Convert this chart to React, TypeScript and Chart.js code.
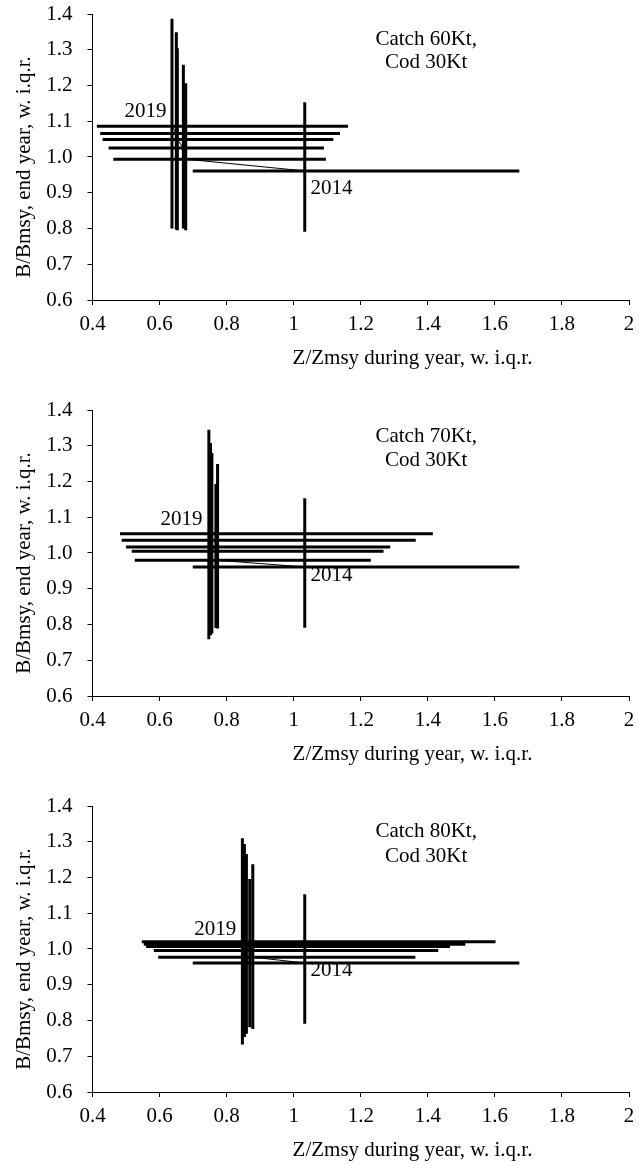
import React, { useEffect, useRef } from "react";
import { Chart, registerables } from "chart.js";

Chart.register(...registerables);

const years = [2014, 2015, 2016, 2017, 2018, 2019];

// Catch 60Kt
const zMid60 = [1.033, 0.678, 0.671, 0.653, 0.650, 0.637];
const zLo60 = [0.699, 0.462, 0.448, 0.430, 0.423, 0.413];
const zHi60 = [1.673, 1.096, 1.090, 1.118, 1.138, 1.162];
const bMid60 = [0.961, 0.994, 1.025, 1.049, 1.066, 1.086];
const bLo60 = [0.791, 0.795, 0.800, 0.795, 0.797, 0.800];
const bHi60 = [1.153, 1.206, 1.258, 1.304, 1.349, 1.387];

// Catch 70Kt
const zMid70 = [1.033, 0.768, 0.773, 0.756, 0.752, 0.747];
const zLo70 = [0.699, 0.526, 0.517, 0.500, 0.487, 0.482];
const zHi70 = [1.673, 1.230, 1.268, 1.288, 1.364, 1.415];
const bMid70 = [0.961, 0.980, 1.005, 1.017, 1.036, 1.054];
const bLo70 = [0.791, 0.790, 0.789, 0.775, 0.770, 0.759];
const bHi70 = [1.153, 1.193, 1.249, 1.280, 1.308, 1.345];

// Catch 80Kt
const zMid80 = [1.033, 0.878, 0.869, 0.859, 0.853, 0.847];
const zLo80 = [0.699, 0.596, 0.583, 0.560, 0.553, 0.547];
const zHi80 = [1.673, 1.363, 1.431, 1.466, 1.512, 1.602];
const bMid80 = [0.961, 0.977, 0.996, 1.007, 1.013, 1.020];
const bLo80 = [0.791, 0.776, 0.781, 0.763, 0.754, 0.733];
const bHi80 = [1.153, 1.237, 1.196, 1.266, 1.294, 1.310];

const xTicks = [0.4, 0.6, 0.8, 1, 1.2, 1.4, 1.6, 1.8, 2];
const yTicks = [0.6, 0.7, 0.8, 0.9, 1.0, 1.1, 1.2, 1.3, 1.4];

const panelTitles = [
  ["Catch 60Kt,", "Cod 30Kt"],
  ["Catch 70Kt,", "Cod 30Kt"],
  ["Catch 80Kt,", "Cod 30Kt"],
];

const xTitle = "Z/Zmsy during year, w. i.q.r.";
const yTitle = "B/Bmsy, end year, w. i.q.r.";

// label anchor positions (data coords)
const labelPos = [
  { catchX: 1.395, catchY: [1.33, 1.263], y19: [0.621, 1.127], y14: [1.05, 0.913] },
  { catchX: 1.395, catchY: [1.325, 1.258], y19: [0.728, 1.093], y14: [1.05, 0.936] },
  { catchX: 1.395, catchY: [1.328, 1.26], y19: [0.829, 1.055], y14: [1.05, 0.94] },
];

const panels = [
  { zMid: zMid60, zLo: zLo60, zHi: zHi60, bMid: bMid60, bLo: bLo60, bHi: bHi60 },
  { zMid: zMid70, zLo: zLo70, zHi: zHi70, bMid: bMid70, bLo: bLo70, bHi: bHi70 },
  { zMid: zMid80, zLo: zLo80, zHi: zHi80, bMid: bMid80, bLo: bLo80, bHi: bHi80 },
];

const FONT = "'Liberation Serif', 'Times New Roman', serif";
const FS = 21;
const W = 639;
const H = 396;
const tops = [0, 395.5, 792];

function Panel({ idx }: { idx: number }) {
  const ref = useRef<HTMLCanvasElement | null>(null);
  useEffect(() => {
    const p = panels[idx];
    const lp = labelPos[idx];
    const datasets: any[] = [];
    years.forEach((yr, i) => {
      datasets.push({
        type: "line",
        data: [
          { x: p.zLo[i], y: p.bMid[i] },
          { x: p.zHi[i], y: p.bMid[i] },
        ],
        borderColor: "#000",
        borderWidth: 3,
        pointRadius: 0,
        fill: false,
      });
      datasets.push({
        type: "line",
        data: [
          { x: p.zMid[i], y: p.bLo[i] },
          { x: p.zMid[i], y: p.bHi[i] },
        ],
        borderColor: "#000",
        borderWidth: 3,
        pointRadius: 0,
        fill: false,
      });
    });
    datasets.push({
      type: "line",
      data: years.map((_, i) => ({ x: p.zMid[i], y: p.bMid[i] })),
      borderColor: "#000",
      borderWidth: 1,
      pointRadius: 0,
      fill: false,
    });

    const textPlugin = {
      id: "texts",
      afterDraw(chart: any) {
        const ctx = chart.ctx;
        const xs = chart.scales.x;
        const ys = chart.scales.y;
        const ca = chart.chartArea;
        ctx.save();
        ctx.fillStyle = "#000";
        ctx.font = `${FS}px ${FONT}`;
        ctx.textBaseline = "middle";
        ctx.textAlign = "center";
        const cx = xs.getPixelForValue(lp.catchX);
        ctx.fillText(panelTitles[idx][0], cx, ys.getPixelForValue(lp.catchY[0]));
        ctx.fillText(panelTitles[idx][1], cx, ys.getPixelForValue(lp.catchY[1]));
        ctx.textAlign = "right";
        ctx.fillText(String(years[5]), xs.getPixelForValue(lp.y19[0]), ys.getPixelForValue(lp.y19[1]));
        ctx.textAlign = "left";
        ctx.fillText(String(years[0]), xs.getPixelForValue(lp.y14[0]), ys.getPixelForValue(lp.y14[1]));
        // axis titles
        ctx.textAlign = "center";
        ctx.fillText(xTitle, ca.left + 320, ca.bottom + 58);
        ctx.translate(24, ca.top + 153);
        ctx.rotate(-Math.PI / 2);
        ctx.fillText(yTitle, 0, 0);
        ctx.restore();
      },
    };

    const chart = new Chart(ref.current as HTMLCanvasElement, {
      type: "scatter",
      data: { datasets },
      options: {
        animation: false,
        responsive: false,
        devicePixelRatio: 1,
        layout: { padding: { top: 14, right: 10, left: 0, bottom: 0 } },
        plugins: { legend: { display: false }, tooltip: { enabled: false }, title: { display: false } },
        scales: {
          x: {
            type: "linear",
            min: 0.4,
            max: 2,
            afterFit: (s: any) => {
              s.height = H - 14 - 286;
              s.paddingLeft = 0;
              s.paddingRight = 0;
            },
            afterBuildTicks: (s: any) => {
              s.ticks = xTicks.map((v) => ({ value: v }));
            },
            ticks: {
              color: "#000",
              font: { family: FONT, size: FS },
              padding: 7,
              maxRotation: 0,
              callback: (v: any) => String(Math.round(Number(v) * 10) / 10),
            },
            grid: { drawOnChartArea: false, drawTicks: true, tickLength: 5, color: "#000" },
            border: { display: true, color: "#000", width: 1 },
          },
          y: {
            type: "linear",
            min: 0.6,
            max: 1.4,
            afterFit: (s: any) => {
              s.width = 92.5;
              s.paddingTop = 0;
              s.paddingBottom = 0;
            },
            afterBuildTicks: (s: any) => {
              s.ticks = yTicks.map((v) => ({ value: v }));
            },
            ticks: {
              color: "#000",
              font: { family: FONT, size: FS },
              padding: 15,
              callback: (v: any) => Number(v).toFixed(1),
            },
            grid: { drawOnChartArea: false, drawTicks: true, tickLength: 5, color: "#000" },
            border: { display: true, color: "#000", width: 1 },
          },
        },
      },
      plugins: [textPlugin],
    } as any);
    return () => chart.destroy();
  }, [idx]);
  return (
    <canvas
      ref={ref}
      width={W}
      height={H}
      style={{ position: "absolute", left: 0, top: tops[idx], width: W, height: H }}
    />
  );
}

export default function App() {
  return (
    <div style={{ position: "absolute", left: 0, top: 0, width: W, height: 1165, background: "#fff" }}>
      {[0, 1, 2].map((i) => (
        <Panel key={i} idx={i} />
      ))}
    </div>
  );
}
